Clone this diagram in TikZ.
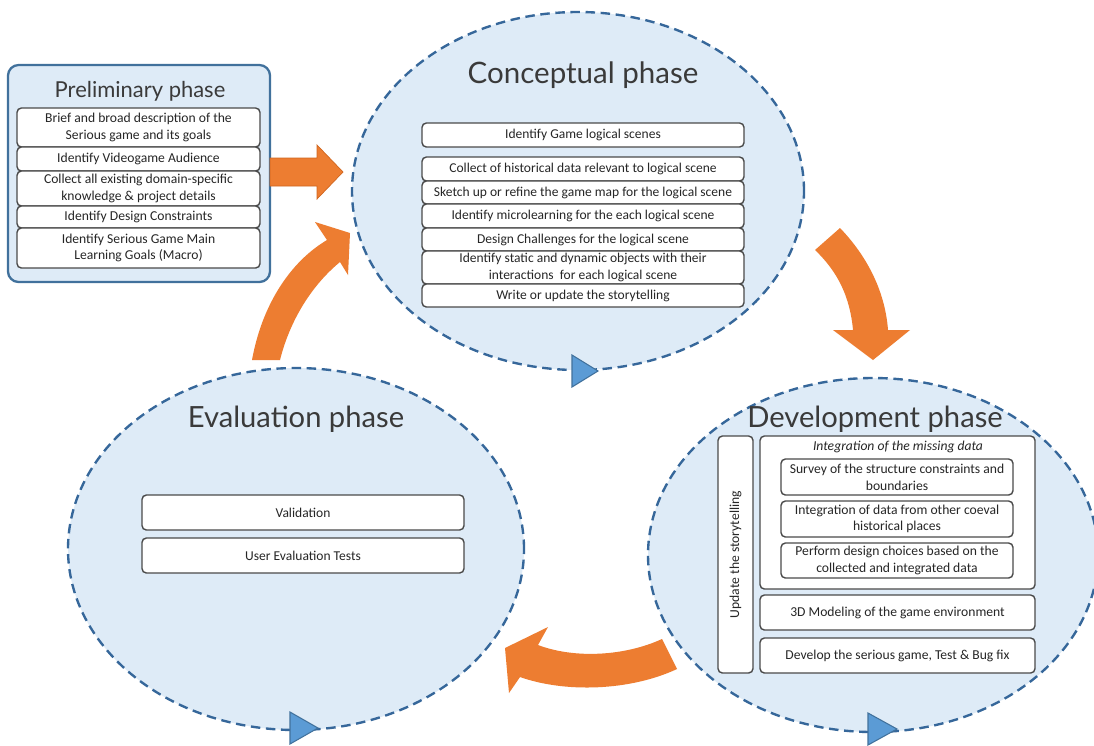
\documentclass[tikz,border=0pt]{standalone}
\usepackage{fontspec}
\setmainfont{Carlito}
\newfontfamily\titlefont{Lato}
\usetikzlibrary{shapes.geometric}

\definecolor{phasefill}{HTML}{DEEBF7}
\definecolor{phaseline}{HTML}{36679A}
\definecolor{arroworange}{HTML}{ED7D31}
\definecolor{arrowedge}{HTML}{D0661F}
\definecolor{markfill}{HTML}{5B9BD5}
\definecolor{markline}{HTML}{41719C}
\definecolor{boxline}{HTML}{4A4A4A}
\definecolor{textcol}{HTML}{262626}
\definecolor{titlecol}{HTML}{3A3A3A}

\tikzset{
  wh/.style 2 args={minimum width=#1*0.02cm, minimum height=#2*0.02cm},
  phase/.style={ellipse, draw=phaseline, fill=phasefill, line width=1.35pt,
    dash pattern=on 5.4pt off 3.2pt, inner sep=0pt},
  prelimbox/.style={rectangle, draw=markline, fill=phasefill, line width=1.3pt,
    rounded corners=6pt, inner sep=0pt},
  item/.style={rectangle, draw=boxline, fill=white, line width=0.8pt,
    rounded corners=2.5pt, inner sep=0pt, align=center, text=textcol,
    font=\fontsize{7.7}{9.2}\selectfont},
  bigitem/.style={item, font=\fontsize{7.75}{9.5}\selectfont},
  phasetitle/.style={anchor=base, text=titlecol, inner sep=0pt},
  blockarrow/.style={fill=arroworange},
  marker/.style={fill=markfill, draw=markline, line width=0.6pt},
}

\begin{document}
\begin{tikzpicture}[x=0.02cm, y=-0.02cm]
\clip (0,0) rectangle (1094,745);
\fill[white] (0,0) rectangle (1094,745);

% ---------- phase ellipses ----------
\node[phase, wh={452}{358}] (concept) at (578,191) {};
\node[phase, wh={456}{362}] (eval) at (296,549) {};
\node[phase, wh={450}{354}] (devel) at (873,555) {};

% direction markers on the ellipses
\filldraw[marker] (572,355) -- (598,371) -- (572,387) -- cycle;
\filldraw[marker] (868,713) -- (897,729) -- (868,745) -- cycle;
\filldraw[marker] (290,712) -- (318,728) -- (290,744) -- cycle;

% ---------- preliminary phase ----------
\node[prelimbox, wh={262}{217}] (pre) at (139,173.5) {};
\node[phasetitle, font=\titlefont\fontsize{12.5}{15}\selectfont] (pretitle) at (140,97) {Preliminary phase};
\node[bigitem, wh={243}{39}] (p1) at (138.5,127.5) {Brief and broad description of the\\Serious game and its goals};
\node[bigitem, wh={243}{24}] (p2) at (138.5,159) {Identify Videogame Audience};
\node[bigitem, wh={243}{35}] (p3) at (138.5,188.5) {Collect all existing domain-specific\\knowledge \& project details};
\node[bigitem, wh={243}{22}] (p4) at (138.5,217) {Identify Design Constraints};
\node[bigitem, wh={243}{40}] (p5) at (138.5,248) {Identify Serious Game Main\\Learning Goals (Macro)};

% ---------- conceptual phase ----------
\node[phasetitle, font=\titlefont\fontsize{16.8}{20}\selectfont] (ctitle) at (583,83) {Conceptual phase};
\node[item, wh={322}{24}] (c1) at (583,135) {Identify Game logical scenes};
\node[item, wh={322}{24}] (c2) at (583,169) {Collect of historical data relevant to logical scene};
\node[item, wh={322}{23}] (c3) at (583,192.5) {Sketch up or refine the game map for the logical scene};
\node[item, wh={322}{24}] (c4) at (583,216) {Identify microlearning for the each logical scene};
\node[item, wh={322}{23}] (c5) at (583,239.5) {Design Challenges for the logical scene};
\node[item, wh={322}{33}] (c6) at (583,267.5) {Identify static and dynamic objects with their\\interactions\ \ for each logical scene};
\node[item, wh={322}{23}] (c7) at (583,295.5) {Write or update the storytelling};

% ---------- evaluation phase ----------
\node[phasetitle, font=\titlefont\fontsize{16.6}{20}\selectfont] (etitle) at (296,427) {Evaluation phase};
\node[item, wh={322}{35}] (e1) at (303,512.5) {Validation};
\node[item, wh={322}{35}] (e2) at (303,555.5) {User Evaluation Tests};

% ---------- development phase ----------
\node[phasetitle, font=\titlefont\fontsize{16.6}{20}\selectfont] (dtitle) at (875,427) {Development phase};
\node[bigitem, wh={35}{237}] (story) at (735.5,554.5) {};
\node[bigitem, rotate=90, draw=none, fill=none] (storytext) at (story.center) {Update the storytelling};
\node[bigitem, wh={275}{153}] (integ) at (897.5,512.5) {};
\node[bigitem, draw=none, fill=none, font=\fontsize{7.75}{9.5}\selectfont\itshape] (integtitle) at (898,447) {Integration of the missing data};
\node[bigitem, wh={232}{36}] (da) at (897,477) {Survey of the structure constraints and\\boundaries};
\node[bigitem, wh={232}{36}] (db) at (897,519) {Integration of data from other coeval\\historical places};
\node[bigitem, wh={232}{35}] (dc) at (897,560.5) {Perform design choices based on the\\collected and integrated data};
\node[bigitem, wh={275}{35}] (dm) at (897.5,612.5) {3D Modeling of the game environment};
\node[bigitem, wh={275}{35}] (dd) at (897.5,655.5) {Develop the serious game, Test \& Bug fix};

% ---------- orange cycle arrows ----------
% preliminary -> conceptual
\filldraw[blockarrow, draw=arrowedge, line width=0.4pt]
  (270,158) -- (317,158) -- (317,145) -- (343,172) -- (317,199) -- (317,186) -- (270,186) -- cycle;
% conceptual -> development
\fill[blockarrow]
  (815,250) -- (840,228) .. controls (866,255) and (885,290) .. (888,330)
  -- (910,330) -- (873,360) -- (833,330) -- (853,330)
  .. controls (850,297) and (838,272) .. (815,250) -- cycle;
% development -> evaluation
\fill[blockarrow]
  (662,639) .. controls (625,656) and (575,659) .. (538,645)
  -- (548,627) -- (505,648) -- (509,693) -- (520,677)
  .. controls (565,693) and (630,691) .. (677,669) -- cycle;
% evaluation -> conceptual
\fill[blockarrow]
  (252,360) .. controls (262,305) and (290,262) .. (327,240)
  -- (315,222) -- (350,233) -- (348,275) -- (340,262)
  .. controls (312,285) and (290,320) .. (280,360) -- cycle;
\end{tikzpicture}
\end{document}
